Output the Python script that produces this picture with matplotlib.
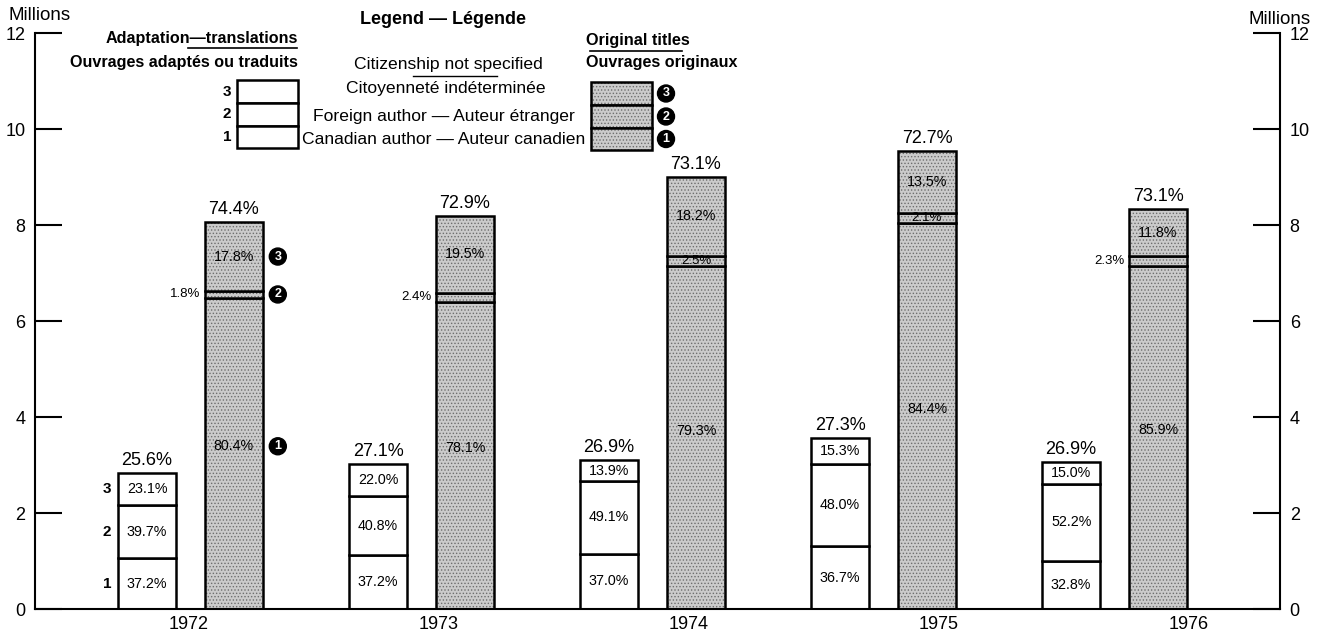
import matplotlib
matplotlib.use('Agg')
import matplotlib.pyplot as plt
from matplotlib.patches import Rectangle

plt.rcParams['font.family'] = ['Liberation Sans', 'DejaVu Sans']
plt.rcParams['hatch.linewidth'] = 0.6

years = ['1972', '1973', '1974', '1975', '1976']

# totals in millions
adapt_total = [2.83, 3.02, 3.10, 3.56, 3.06]
orig_total = [8.06, 8.19, 9.00, 9.54, 8.33]

# share of all titles
adapt_share = [25.6, 27.1, 26.9, 27.3, 26.9]
orig_share = [74.4, 72.9, 73.1, 72.7, 73.1]

# segment percentages: 1 canadian, 2 foreign, 3 not specified
adapt_canadian = [37.2, 37.2, 37.0, 36.7, 32.8]
adapt_foreign = [39.7, 40.8, 49.1, 48.0, 52.2]
adapt_unspec = [23.1, 22.0, 13.9, 15.3, 15.0]

orig_canadian = [80.4, 78.1, 79.3, 84.4, 85.9]
orig_foreign = [1.8, 2.4, 2.5, 2.1, 2.3]
orig_unspec = [17.8, 19.5, 18.2, 13.5, 11.8]

W, H = 1327, 639
fig = plt.figure(figsize=(W / 100, H / 100), dpi=100)
ax = fig.add_axes([35 / W, 1 - 609 / H, (1280 - 35) / W, (609 - 33) / H])

off = 0.188
bw = 0.25
lw = 1.8
stip_face = '#cbcbcb'
stip_hatch = '#6e6e6e'


def draw_stack(x, total, pcts, stippled):
    bottom = 0.0
    segs = []
    for p in pcts:
        h = total * p / 100
        if stippled:
            ax.bar(x, h, bottom=bottom, width=bw, color=stip_face, hatch='.....',
                   edgecolor=stip_hatch, linewidth=0)
        else:
            ax.bar(x, h, bottom=bottom, width=bw, color='white', linewidth=0)
        ax.bar(x, h, bottom=bottom, width=bw, fill=False, edgecolor='black', linewidth=lw)
        segs.append((bottom, h))
        bottom += h
    return segs


def circled(target, x, y, s):
    target.text(x, y, s, color='white', fontsize=9, fontweight='bold', ha='center', va='center',
                bbox=dict(boxstyle='circle,pad=0.2', fc='black', ec='black'))


for i in range(len(years)):
    xw = i - off
    xs = i + off
    segs_w = draw_stack(xw, adapt_total[i],
                        [adapt_canadian[i], adapt_foreign[i], adapt_unspec[i]], False)
    segs_s = draw_stack(xs, orig_total[i],
                        [orig_canadian[i], orig_foreign[i], orig_unspec[i]], True)

    ax.annotate(f'{adapt_share[i]}%', (xw, adapt_total[i]), xytext=(0, 3),
                textcoords='offset points', ha='center', va='bottom', fontsize=13)
    ax.annotate(f'{orig_share[i]}%', (xs, orig_total[i]), xytext=(0, 3),
                textcoords='offset points', ha='center', va='bottom', fontsize=13)

    for (b, h), p in zip(segs_w, [adapt_canadian[i], adapt_foreign[i], adapt_unspec[i]]):
        ax.text(xw, b + h / 2, f'{p}%', ha='center', va='center', fontsize=10.3)

    b1, h1 = segs_s[0]
    ax.text(xs, b1 + h1 / 2 + 0.15, f'{orig_canadian[i]}%', ha='center', va='center',
            fontsize=10.3)
    b3, h3 = segs_s[2]
    ax.text(xs, b3 + h3 / 2, f'{orig_unspec[i]}%', ha='center', va='center', fontsize=10.3)
    b2, h2 = segs_s[1]
    if h2 > 0.2:
        ax.text(xs, b2 + h2 / 2, f'{orig_foreign[i]}%', ha='center', va='center', fontsize=9.5)
    else:
        ax.text(xs - bw / 2 - 0.02, b2 + h2 / 2, f'{orig_foreign[i]}%', ha='right',
                va='center', fontsize=9.5)

    if i == 0:
        for (b, h), n in zip(segs_w, ['1', '2', '3']):
            ax.text(xw - 0.173, b + h / 2, n, ha='center', va='center',
                    fontsize=11, fontweight='bold')
        circled(ax, xs + 0.19, b1 + h1 / 2 + 0.15, '1')
        circled(ax, xs + 0.19, b2 + h2 / 2, '2')
        circled(ax, xs + 0.19, b3 + h3 / 2, '3')

ax.set_xlim(-0.673, 4.716)
ax.set_ylim(0, 12)
ax.set_yticks(range(0, 13, 2))
ax.set_xticks([i * 1.0823 - 0.01 for i in range(len(years))])
ax.set_xticklabels(years, fontsize=13)
ax.tick_params(axis='x', length=0, pad=5)
ax.tick_params(axis='y', direction='in', length=19.5, width=1.5, labelsize=13,
               left=True, right=True, labelleft=True, labelright=True, pad=7)
ax.spines['top'].set_visible(False)
for side in ['left', 'right', 'bottom']:
    ax.spines[side].set_linewidth(1.5)
ax.patch.set_alpha(0)

# overlay in pixel coordinates for legend and axis captions
legend_ax = fig.add_axes([0, 0, 1, 1], zorder=5)
legend_ax.set_xlim(0, W)
legend_ax.set_ylim(H, 0)
legend_ax.axis('off')
legend_ax.patch.set_alpha(0)

legend_ax.text(8, 16, 'Millions', ha='left', va='center', fontsize=13.5)
legend_ax.text(1311, 19, 'Millions', ha='right', va='center', fontsize=13.5)

legend_ax.text(443, 20, 'Legend — Légende', ha='center', va='center', fontsize=13,
               fontweight='bold')
legend_ax.text(298, 38, 'Adaptation—translations', ha='right', va='center', fontsize=11.6,
               fontweight='bold')
legend_ax.plot([188, 297], [48, 48], color='black', lw=1.2)
legend_ax.text(298, 62, 'Ouvrages adaptés ou traduits', ha='right', va='center',
               fontsize=11.6, fontweight='bold')
legend_ax.text(586, 40, 'Original titles', ha='left', va='center', fontsize=11.7,
               fontweight='bold')
legend_ax.plot([590, 682], [51, 51], color='black', lw=1.2)
legend_ax.text(586, 63, 'Ouvrages originaux', ha='left', va='center', fontsize=11.6,
               fontweight='bold')

legend_ax.text(448, 64, 'Citizenship not specified', ha='center', va='center', fontsize=12.6)
legend_ax.plot([413, 497], [76, 76], color='black', lw=1.0)
legend_ax.text(446, 89, 'Citoyenneté indéterminée', ha='center', va='center', fontsize=12.6)
legend_ax.text(444, 116, 'Foreign author — Auteur étranger', ha='center', va='center',
               fontsize=12.6)
legend_ax.text(444, 139, 'Canadian author — Auteur canadien', ha='center', va='center',
               fontsize=12.6)

rows = [(80, 103, '3'), (103, 126, '2'), (126, 148, '1')]
for top, bot, n in rows:
    legend_ax.add_patch(Rectangle((237, top), 61, bot - top, fc='white', ec='black', lw=lw))
    legend_ax.text(227, (top + bot) / 2, n, ha='center', va='center', fontsize=11,
                   fontweight='bold')
    legend_ax.add_patch(Rectangle((591, top + 2), 61, bot - top, fc=stip_face,
                                  hatch='.....', ec=stip_hatch, lw=0))
    legend_ax.add_patch(Rectangle((591, top + 2), 61, bot - top, fill=False, ec='black', lw=lw))
    circled(legend_ax, 666, (top + bot) / 2 + 2, n)

fig.savefig('out.png', dpi=100)
